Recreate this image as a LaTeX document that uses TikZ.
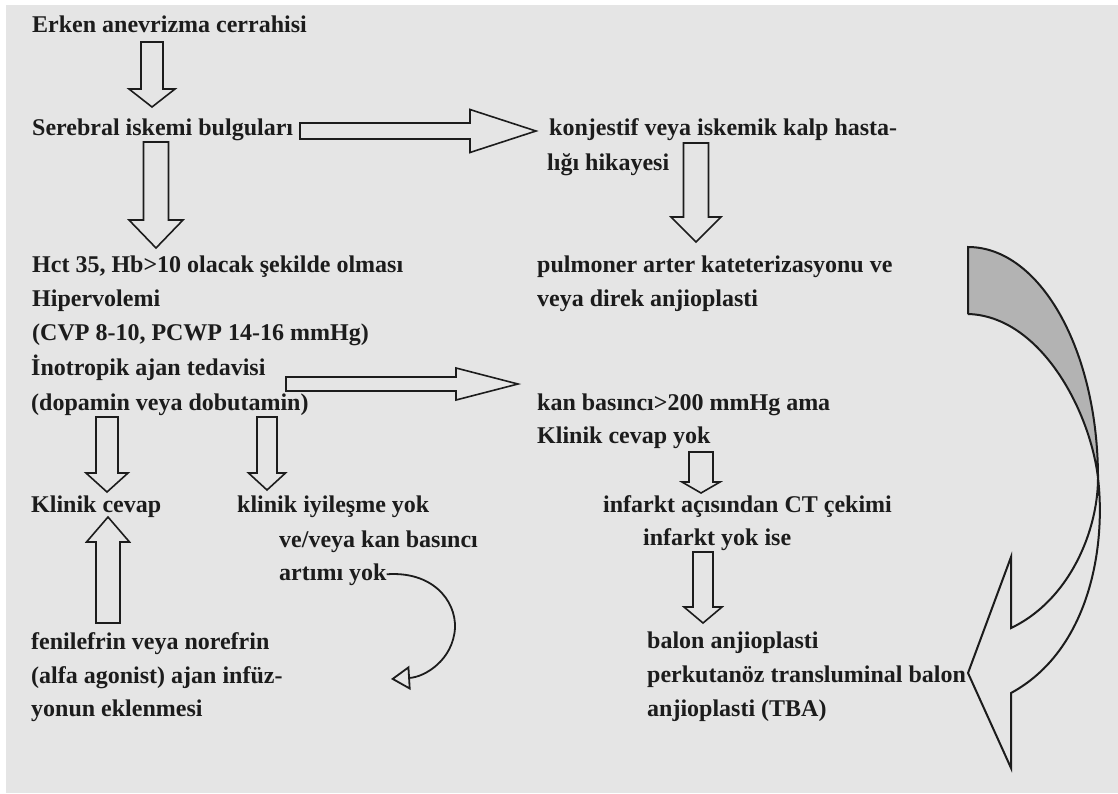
\documentclass[tikz,border=0pt]{standalone}
\usepackage{fontspec}
\setmainfont{Liberation Serif}
\usetikzlibrary{arrows.meta}
\definecolor{bggray}{HTML}{E5E5E5}
\definecolor{shadegray}{HTML}{B3B3B3}
\definecolor{ink}{HTML}{1C1C1C}
\tikzset{
  lbl/.style={anchor=base west, inner sep=0pt, font=\fontsize{24}{28}\selectfont\bfseries, text=ink},
  blk/.style={draw=ink, line width=1.6pt, line join=miter},
  bigarrow/.style={draw=ink, line width=2pt, line join=miter},
  thinarrow/.style={draw=ink, line width=1.8pt, -{Triangle[open, length=19pt, width=24pt, line width=1.8pt]}},
}
% vertical block arrow: xc, ytail, yheadbase, ytip, shaft half width, head half width
\newcommand\myvarrow[6]{%
  \draw[blk] (#1-#5,#2) -- (#1+#5,#2) -- (#1+#5,#3) -- (#1+#6,#3) -- (#1,#4) -- (#1-#6,#3) -- (#1-#5,#3) -- cycle;}
% horizontal block arrow: yc, xtail, xheadbase, xtip, shaft half width, head half width
\newcommand\myharrow[6]{%
  \draw[blk] (#2,#1-#5) -- (#3,#1-#5) -- (#3,#1-#6) -- (#4,#1) -- (#3,#1+#6) -- (#3,#1+#5) -- (#2,#1+#5) -- cycle;}
\begin{document}
\begin{tikzpicture}[x=1pt,y=-1pt]
\useasboundingbox (0,0) rectangle (1118,793);
\fill[white] (0,0) rectangle (1118,793);
\fill[bggray] (6,5) rectangle (1118,793);

% texts
\node[lbl] (t1) at (32,32) {Erken anevrizma cerrahisi};
\node[lbl] (t2) at (32,135) {Serebral iskemi bulguları};
\node[lbl] (t3a) at (549,135) {konjestif veya iskemik kalp hasta-};
\node[lbl] (t3b) at (547,170) {lığı hikayesi};
\node[lbl] (t4a) at (32,272) {Hct 35, Hb>10 olacak şekilde olması};
\node[lbl] (t4b) at (32,306) {Hipervolemi};
\node[lbl] (t4c) at (32,340) {(CVP 8-10, PCWP 14-16 mmHg)};
\node[lbl] (t4d) at (31,375) {İnotropik ajan tedavisi};
\node[lbl] (t4e) at (31,410) {(dopamin veya dobutamin)};
\node[lbl] (t5a) at (537,272) {pulmoner arter kateterizasyonu ve};
\node[lbl] (t5b) at (537,306) {veya direk anjioplasti};
\node[lbl] (t6a) at (537,410) {kan basıncı>200 mmHg ama};
\node[lbl] (t6b) at (537,443) {Klinik cevap yok};
\node[lbl] (t7) at (31,512) {Klinik cevap};
\node[lbl] (t8) at (237,512) {klinik iyileşme yok};
\node[lbl] (t9a) at (279,547) {ve/veya kan basıncı};
\node[lbl] (t9b) at (279,580) {artımı yok};
\node[lbl] (t10) at (603,512) {infarkt açısından CT çekimi};
\node[lbl] (t11) at (643,545) {infarkt yok ise};
\node[lbl] (t12a) at (31,649) {fenilefrin veya norefrin};
\node[lbl] (t12b) at (31,683) {(alfa agonist) ajan infüz-};
\node[lbl] (t12c) at (31,716) {yonun eklenmesi};
\node[lbl] (t13a) at (647,648) {balon anjioplasti};
\node[lbl] (t13b) at (647,682) {perkutanöz transluminal balon};
\node[lbl] (t13c) at (647,716) {anjioplasti (TBA)};

% block arrows
\myvarrow{152}{42}{89}{107}{11}{23}
\myvarrow{156}{142}{220}{248}{12.5}{27}
\myvarrow{696}{143}{217}{242}{12.5}{25}
\myvarrow{107}{417}{473}{492}{11}{21}
\myvarrow{267}{417}{473}{490}{10}{18.5}
\myvarrow{108}{623}{542}{517}{12}{21.5}
\myvarrow{701}{452}{482}{493}{12}{19}
\myvarrow{703}{552}{607}{623}{10}{19}
\myharrow{131}{300}{470}{536}{8}{21.5}
\myharrow{384}{286}{456}{518}{7}{16}

% thin curved arrow
\coordinate (c1) at (391,679);
\draw[thinarrow] (t9b.east) .. controls (432,571) and (456,600) .. (455,628)
   .. controls (453,660) and (425,677) .. (c1);

% big curved arrow
\fill[shadegray] (968,247) .. controls (1040,247) and (1098,350) .. (1098,478)
   .. controls (1090,410) and (1040,316) .. (968,314) -- cycle;
\draw[bigarrow] (968,314) -- (968,247) .. controls (1040,247) and (1098,350) .. (1098,478)
   .. controls (1098,530) and (1070,600) .. (1011,628) -- (1011,557) -- (968,673)
   -- (1011,768) -- (1011,693) .. controls (1090,650) and (1106,546) .. (1098,478)
   .. controls (1090,410) and (1040,316) .. (968,314);
\end{tikzpicture}
\end{document}
